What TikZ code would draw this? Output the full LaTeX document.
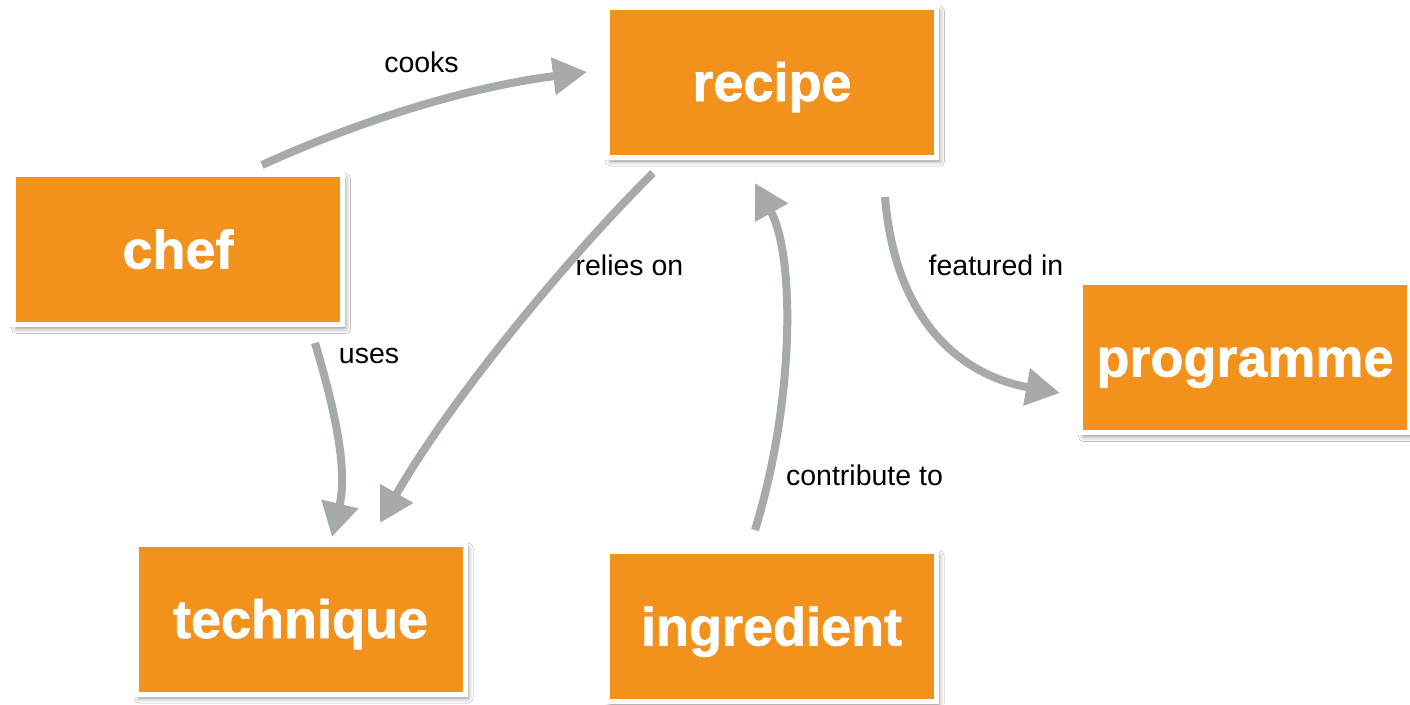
\documentclass[tikz,border=0pt]{standalone}
\usepackage{fontspec}
\setmainfont{Liberation Sans}
\newfontfamily\boxfont[FakeBold=1.2]{Liberation Sans Bold}
\usetikzlibrary{arrows.meta,shadows.blur,calc}
\definecolor{boxorange}{HTML}{F2911C}
\definecolor{arrowgray}{HTML}{A6AAA8}
\tikzset{
  conceptbox/.style={draw=white, line width=5pt, fill=boxorange,
    minimum width=329pt, minimum height=150pt, inner sep=0pt, outer sep=0pt,
    text=white, font=\boxfont\fontsize{54}{60}\selectfont,
    text height=38pt, text depth=0pt,
    blur shadow={shadow xshift=3pt, shadow yshift=-4pt, shadow blur radius=5pt, shadow opacity=45}},
  conn/.style={draw=arrowgray, line width=8pt, -{Triangle[length=34pt,width=36pt]}},
  lbl/.style={font=\fontsize{28.5}{32}\selectfont, text=black, anchor=base, inner sep=0pt}
}
\begin{document}
\begin{tikzpicture}[x=1pt,y=-1pt]
\useasboundingbox (0,0) rectangle (1410,704);
\fill[white] (0,0) rectangle (1410,704);

\node[conceptbox] (recipe) at (772,82) {recipe};
\node[conceptbox] (chef) at (178,249.5) {chef};
\node[conceptbox] (technique) at (300.5,619) {technique};
\node[conceptbox] (ingredient) at (771.5,626.5) {ingredient};
\node[conceptbox] (programme) at (1245,357.5) {programme};

\draw[conn] ([shift={(84,-84.5)}]chef.center) .. controls (350,125) and (460,88) .. ([shift={(-185,-10)}]recipe.center);
\draw[conn] ([shift={(137,93.5)}]chef.center) .. controls (335,410) and (348,470) .. ([shift={(31.5,-82)}]technique.center);
\draw[conn] ([shift={(-119,91)}]recipe.center) .. controls (570,255) and (450,400) .. ([shift={(79.5,-96)}]technique.center);
\draw[conn] ([shift={(-16.5,-96.5)}]ingredient.center) .. controls (795,400) and (795,255) .. ([shift={(-17,101)}]recipe.center);
\draw[conn] ([shift={(113,115)}]recipe.center) .. controls (895,320) and (960,375) .. ([shift={(-185,35.5)}]programme.center);

\node[lbl] (lcooks) at (421.5,72) {cooks};
\node[lbl] (luses) at (369,363) {uses};
\node[lbl] (lrelies) at (629.5,275) {relies on};
\node[lbl] (lfeatured) at (996,275) {featured in};
\node[lbl] (lcontrib) at (864.5,485) {contribute to};
\end{tikzpicture}
\end{document}
